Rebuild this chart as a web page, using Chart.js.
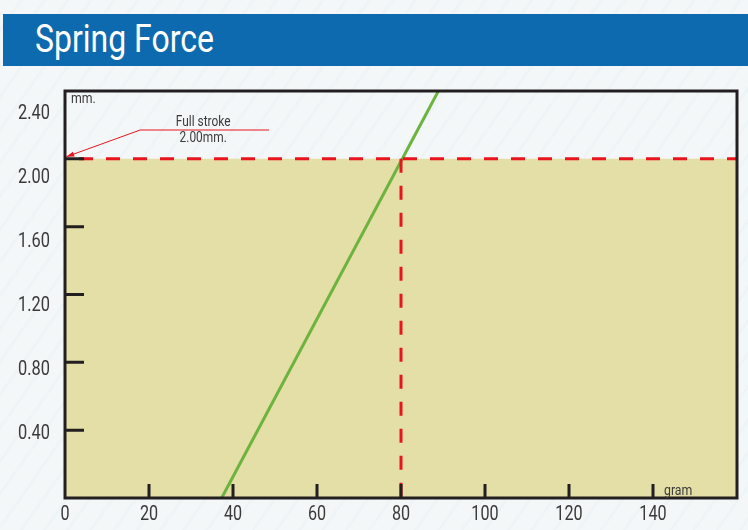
<!DOCTYPE html>
<html>
<head>
<meta charset="utf-8">
<script src="https://cdn.jsdelivr.net/npm/chart.js@4"></script>
<style>
  html, body { margin: 0; padding: 0; }
  body {
    width: 748px; height: 530px; overflow: hidden; position: relative;
    background-color: #f4f7f8;
    background-image: repeating-linear-gradient(125deg, rgba(255,255,255,0) 0 16px, rgba(214,230,240,0.18) 16px 19px);
    font-family: Roboto, sans-serif;
  }
  #banner { position: absolute; left: 3px; top: 14px; width: 745px; height: 52px; background: #0e6aae; }
  #title {
    position: absolute; left: 32px; top: 6px; color: #fff; font-size: 39px; line-height: 1;
    white-space: nowrap; transform: scaleX(0.82); transform-origin: 0 0;
  }
  #wrap { position: absolute; left: 0; top: 0; width: 748px; height: 530px; }
</style>
</head>
<body>
<div id="banner"><div id="title">Spring Force</div></div>
<div id="wrap"><canvas id="chart"></canvas></div>
<script>
// spring line (load in gram vs stroke in mm)
const springGram = [37.3, 88.9];
const springMm = [0, 2.4];

// full stroke marker
const fullStrokeMm = 2.0;
const fullStrokeGram = 80;

// leader line of the "Full stroke" note
const leaderGram = [48.6, 17.9, 0.3];
const leaderMm = [2.17, 2.17, 2.012];
const noteGram = 32.9;
const noteMm = [2.217, 2.12];
const noteLines = ["Full stroke", "2.00mm."];

// axes
const xMax = 160;
const yMax = 2.4;
const xTicks = [0, 20, 40, 60, 80, 100, 120, 140];
const yTicks = [0.40, 0.80, 1.20, 1.60, 2.00, 2.40];

const FONT = "Roboto, sans-serif";
const RED = '#e8141e';
const INK = '#231f20';
const TEXT = '#3a3a3a';

function pts(xs, ys) {
    return xs.map((x, i) => ({x: x, y: ys[i]}));
}

// condensed text, like the printed type
function text(ctx, s, x, y, size, align, sx) {
    ctx.save();
    ctx.translate(x, y);
    ctx.scale(sx, 1);
    ctx.font = size + 'px ' + FONT;
    ctx.fillStyle = TEXT;
    ctx.textAlign = align;
    ctx.textBaseline = 'middle';
    ctx.fillText(s, 0, 0);
    ctx.restore();
}

// frame, inward ticks, tick labels, arrow head and notes
const decor = {
    id: 'decor',
    afterDatasetsDraw(chart) {
        const ctx = chart.ctx;
        const a = chart.chartArea;
        const xs = chart.scales.x, ys = chart.scales.y, yl = chart.scales.yLabel;
        ctx.save();
        ctx.strokeStyle = INK;
        ctx.lineWidth = 3;
        ctx.beginPath();
        yTicks.filter(v => v < yMax).forEach(v => {
            const py = ys.getPixelForValue(v);
            ctx.moveTo(a.left, py); ctx.lineTo(a.left + 19, py);
        });
        xTicks.filter(v => v > 0).forEach(v => {
            const px = xs.getPixelForValue(v);
            ctx.moveTo(px, a.bottom); ctx.lineTo(px, a.bottom - 14);
        });
        ctx.stroke();
        ctx.strokeRect(a.left, a.top, a.right - a.left, a.bottom - a.top);

        // arrow head on the leader
        const lp = chart.getDatasetMeta(2).data;
        const tip = lp[lp.length - 1], from = lp[lp.length - 2];
        const ang = Math.atan2(tip.y - from.y, tip.x - from.x);
        ctx.fillStyle = RED;
        ctx.beginPath();
        ctx.moveTo(tip.x, tip.y);
        ctx.lineTo(tip.x - 8 * Math.cos(ang) + 2.5 * Math.sin(ang), tip.y - 8 * Math.sin(ang) - 2.5 * Math.cos(ang));
        ctx.lineTo(tip.x - 8 * Math.cos(ang) - 2.5 * Math.sin(ang), tip.y - 8 * Math.sin(ang) + 2.5 * Math.cos(ang));
        ctx.closePath();
        ctx.fill();

        // tick labels
        xTicks.forEach(v => text(ctx, String(v), xs.getPixelForValue(v), a.bottom + 17, 21, 'center', 0.77));
        yTicks.forEach(v => text(ctx, v.toFixed(2), a.left - 15, yl.getPixelForValue(v), 21, 'right', 0.78));

        noteLines.forEach((s, i) => {
            text(ctx, s, xs.getPixelForValue(noteGram), ys.getPixelForValue(noteMm[i]), 14.5, 'center', 0.82);
        });
        text(ctx, 'mm.', a.left + 6, a.top + 8, 15, 'left', 0.82);
        text(ctx, 'gram', xs.getPixelForValue(xTicks[xTicks.length - 1]) + 11, a.bottom - 7, 15, 'left', 0.82);
        ctx.restore();
    }
};

new Chart(document.getElementById('chart'), {
    type: 'line',
    data: {
        datasets: [
            {   // area under full stroke
                data: pts([0, xMax], [fullStrokeMm, fullStrokeMm]),
                fill: 'origin', backgroundColor: '#e4dfa6',
                borderWidth: 0, borderColor: 'rgba(0,0,0,0)', pointRadius: 0, order: 5
            },
            {   // spring line
                data: pts(springGram, springMm),
                borderColor: '#6cb33f', borderWidth: 3, pointRadius: 0, order: 4
            },
            {   // leader of the note
                data: pts(leaderGram, leaderMm),
                borderColor: RED, borderWidth: 1, pointRadius: 0, order: 3, clip: false
            },
            {   // full stroke level
                data: pts([0, xMax], [fullStrokeMm, fullStrokeMm]),
                borderColor: RED, borderWidth: 3, borderDash: [14, 13], borderDashOffset: 13,
                pointRadius: 0, order: 2
            },
            {   // load at full stroke
                data: pts([fullStrokeGram, fullStrokeGram], [fullStrokeMm, 0]),
                borderColor: RED, borderWidth: 3, borderDash: [14, 13],
                pointRadius: 0, order: 1
            }
        ]
    },
    options: {
        responsive: true,
        maintainAspectRatio: false,
        animation: false,
        layout: {padding: {top: 91, right: 11, left: 65, bottom: 32}},
        plugins: {legend: {display: false}, tooltip: {enabled: false}},
        elements: {line: {tension: 0}},
        scales: {
            x: {type: 'linear', display: false, min: 0, max: xMax},
            y: {type: 'linear', display: false, min: 0, max: yMax},
            // the mm labels are printed slightly off the tick marks in the source
            yLabel: {type: 'linear', display: false, position: 'left', min: 0, max: 2.54}
        }
    },
    plugins: [decor]
});
</script>
</body>
</html>
